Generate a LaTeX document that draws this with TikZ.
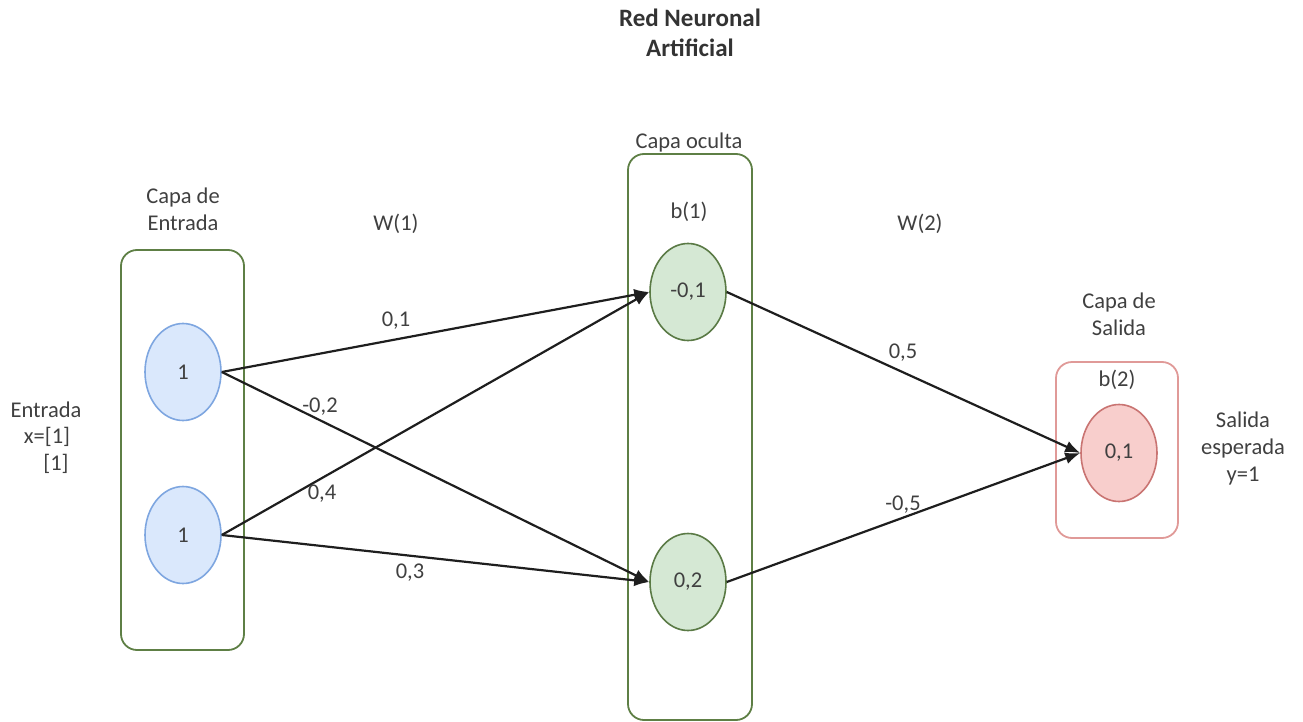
\documentclass[tikz,border=0pt]{standalone}
\usepackage{fontspec}
\setmainfont{Carlito}
\usetikzlibrary{arrows.meta,shapes.geometric}
\definecolor{boxgreen}{HTML}{5E7F45}
\definecolor{hidfill}{HTML}{D5E8D4}
\definecolor{hidline}{HTML}{5A7A45}
\definecolor{infill}{HTML}{DAE8FC}
\definecolor{inline}{HTML}{7EA6E0}
\definecolor{outfill}{HTML}{F8CECC}
\definecolor{outline}{HTML}{C97472}
\definecolor{outbox}{HTML}{E09A98}
\definecolor{txt}{HTML}{404040}
\definecolor{edge}{HTML}{1E1E1E}
\tikzset{
  layerbox/.style={draw=boxgreen, line width=1.8pt, rounded corners=16pt},
  neuron/.style={ellipse, minimum width=76pt, minimum height=97pt, line width=1.6pt, inner sep=0pt, text=txt, font=\fontsize{22.5}{27}\selectfont},
  inneuron/.style={neuron, draw=inline, fill=infill},
  hidneuron/.style={neuron, draw=hidline, fill=hidfill},
  outneuron/.style={neuron, draw=outline, fill=outfill},
  lbl/.style={text=txt, font=\fontsize{22.5}{27}\selectfont, align=center, inner sep=0pt},
  wlbl/.style={lbl},
  conn/.style={draw=edge, line width=2.2pt, -{Latex[length=15pt,width=12pt]}}
}
\begin{document}
\begin{tikzpicture}[x=1pt,y=-1pt]
\useasboundingbox (0,0) rectangle (1303,722);
% title
\node[lbl, font=\bfseries\fontsize{25}{30}\selectfont, text=black!80] (title) at (690,33) {Red Neuronal\\Artificial};
% layer boxes
\draw[layerbox] (121,250) rectangle (244,650);
\draw[layerbox] (628,154) rectangle (752,720);
\draw[layerbox, draw=outbox] (1056,362) rectangle (1178,538);
% layer titles
\node[lbl] (capaE) at (183,209) {Capa de\\Entrada};
\node[lbl] (capaO) at (689,143) {Capa oculta};
\node[lbl] (capaS) at (1119,314) {Capa de\\Salida};
\node[lbl] (b1) at (689,212) {b(1)};
\node[lbl] (b2) at (1117,380) {b(2)};
\node[lbl] (w1) at (396,224) {W(1)};
\node[lbl] (w2) at (920,224) {W(2)};
% input / output descriptions
\node[lbl] (entT) at (46,410) {Entrada};
\node[lbl] (entX) at (47,437) {x=[1]};
\node[lbl] (entY) at (56,464) {[1]};
\node[lbl] (salida) at (1243,448) {Salida\\esperada\\y=1};
% neurons
\node[inneuron] (i1) at (183,372) {1};
\node[inneuron] (i2) at (183,535) {1};
\node[hidneuron] (h1) at (688,292) {-0,1};
\node[hidneuron] (h2) at (688,582) {0,2};
\node[outneuron] (o) at (1119,453) {0,1};
% connectors
\draw[conn] (i1.east) -- (h1.west);
\draw[conn] (i1.east) -- (h2.west);
\draw[conn] (i2.east) -- (h1.west);
\draw[conn] (i2.east) -- (h2.west);
\draw[conn] (h1.east) -- (o.west);
\draw[conn] (h2.east) -- (o.west);
% weight labels
\node[wlbl] (l01) at (396,321) {0,1};
\node[wlbl] (l02) at (320,407) {-0,2};
\node[wlbl] (l04) at (322,494) {0,4};
\node[wlbl] (l03) at (410,573) {0,3};
\node[wlbl] (l05) at (903,353) {0,5};
\node[wlbl] (l05n) at (903,505) {-0,5};
\end{tikzpicture}
\end{document}
